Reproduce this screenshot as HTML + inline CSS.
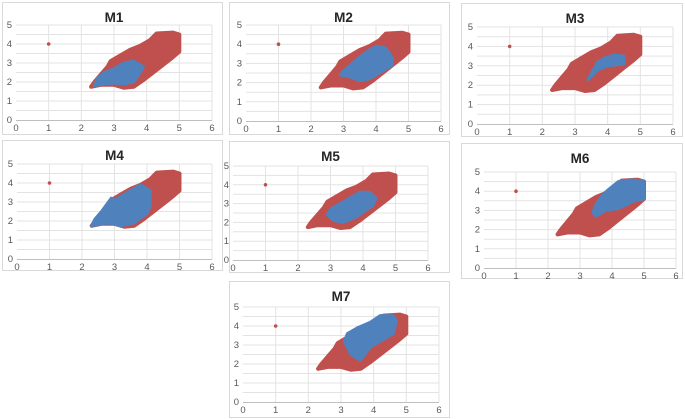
<!DOCTYPE html>
<html><head><meta charset="utf-8"><style>
body{margin:0;background:#fff;width:685px;height:419px;overflow:hidden;font-family:"Liberation Sans",sans-serif}
svg{display:block}
</style></head><body>
<svg id="chart" width="685" height="419" viewBox="0 0 685 419"></svg>
<script>
const titles = ["M1","M2","M3","M4","M5","M6","M7"];
const xTicks = [0,1,2,3,4,5,6];
const yTicks = [0,1,2,3,4,5];
const outlier = [1,4];
const redHull = [[2.3,1.75],[2.6,1.85],[3.0,1.85],[3.3,1.7],[3.6,1.75],[3.9,2.1],[4.2,2.5],[4.5,2.9],[4.8,3.3],[5.0,3.6],[5.0,4.5],[4.8,4.6],[4.3,4.55],[4.1,4.2],[3.8,3.9],[3.5,3.7],[3.2,3.4],[2.9,3.1],[2.8,2.8],[2.6,2.4],[2.4,2.0]];
const blueM1 = [[2.4,1.8],[2.7,1.9],[3.0,1.95],[3.3,1.9],[3.6,2.0],[3.8,2.5],[3.9,2.8],[3.6,3.1],[3.3,3.0],[3.0,2.7],[2.7,2.5],[2.5,2.2]];
const blueM2 = [[3.2,2.3],[3.5,2.1],[3.8,2.2],[4.2,2.6],[4.5,2.9],[4.5,3.3],[4.3,3.8],[4.0,3.9],[3.7,3.6],[3.4,3.2],[3.0,2.6],[2.9,2.4]];
const blueM3 = [[3.4,2.3],[3.7,2.8],[4.0,3.0],[4.5,3.1],[4.5,3.5],[4.2,3.55],[3.9,3.4],[3.7,3.2],[3.5,2.6]];
const blueM4 = [[2.3,1.75],[2.8,1.9],[3.2,1.75],[3.6,1.9],[4.0,2.4],[4.1,2.8],[4.1,3.6],[3.8,3.9],[3.4,3.5],[3.0,3.1],[2.9,3.2],[2.6,2.5],[2.4,2.1]];
const blueM5 = [[3.1,2.1],[3.4,2.0],[3.8,2.3],[4.3,2.9],[4.4,3.3],[4.2,3.6],[3.9,3.6],[3.5,3.2],[3.0,2.7],[2.9,2.4]];
const blueM6 = [[3.5,2.7],[3.8,3.0],[4.2,3.1],[4.7,3.5],[5.0,3.6],[5.0,4.5],[4.6,4.6],[4.2,4.5],[3.9,4.1],[3.7,3.8],[3.5,3.3],[3.4,2.9]];
const blueM7 = [[3.3,2.5],[3.6,2.2],[3.9,2.9],[4.3,3.3],[4.6,3.6],[4.7,4.3],[4.6,4.55],[4.2,4.55],[3.9,4.2],[3.5,3.9],[3.2,3.6],[3.1,3.2]];
const blueSets = [blueM1,blueM2,blueM3,blueM4,blueM5,blueM6,blueM7];
// layout: box [x,y,w,h], axes [x0px,x6px,y0px,y5px]
const layout = [
 {box:[2,2,220,132],ax:[16,212,120,25]},
 {box:[229,2,220,132],ax:[246,441,121,25]},
 {box:[461,3,221,133],ax:[477,673,124,27]},
 {box:[2,140,220,130],ax:[17,212,259,164]},
 {box:[229,141,220,131],ax:[233,428,260,166]},
 {box:[461,143,221,135],ax:[484,676,268,172]},
 {box:[229,281,220,136],ax:[243,439,402,307]}
];
const NS="http://www.w3.org/2000/svg";
const svg=document.getElementById('chart');
function mk(t,a,p){const e=document.createElementNS(NS,t);for(const k in a)e.setAttribute(k,a[k]);p.appendChild(e);return e;}
titles.forEach((title,i)=>{
  const L=layout[i];
  const g=mk('g',{},svg);
  
  
  const [x0,x6,y0,y5]=L.ax;
  const sx=v=>x0+(x6-x0)*v/6, sy=v=>y0-(y0-y5)*v/5;
  const b=mk('rect',{x:L.box[0]+.5,y:L.box[1]+.5,width:L.box[2],height:L.box[3],fill:'#fff',stroke:'#d9d9d9'},g);
  
  
  for(let v=0.5;v<=5;v+=0.5){const l=mk('line',{x1:sx(0),x2:sx(6),y1:sy(v),y2:sy(v),stroke:'#e3e3e3','stroke-width':1},g);
    }
  xTicks.forEach(v=>{if(v>0){const l=mk('line',{x1:sx(v),x2:sx(v),y1:sy(0),y2:sy(5),stroke:'#e3e3e3'},g);
    }
    const t=mk('text',{x:sx(v),y:y0+11,'font-size':9.5,fill:'#595959','text-anchor':'middle'},g);t.textContent=v;
    });
  yTicks.forEach(v=>{const t=mk('text',{x:x0-4,y:sy(v)+3,'font-size':9.5,fill:'#595959','text-anchor':'end'},g);t.textContent=v;
    });
  const ax=mk('line',{x1:sx(0),x2:sx(6),y1:y0+.5,y2:y0+.5,stroke:'#bfbfbf'},g);
  
  const tt=mk('text',{x:(sx(0)+sx(6))/2,y:L.box[1]+20,'font-size':13.5,'font-weight':'bold',fill:'#262626','text-anchor':'middle'},g);
  tt.textContent=title;
  
  const pts=a=>a.map(p=>sx(p[0]).toFixed(1)+','+sy(p[1]).toFixed(1)).join(' ');
  const r=mk('polygon',{points:pts(redHull),fill:'#c0504d',stroke:'#c0504d','stroke-width':4,'stroke-linejoin':'round'},g);
  
  const o=mk('circle',{cx:sx(outlier[0]),cy:sy(outlier[1]),r:1.8,fill:'#c0504d'},g);
  
  const bl=mk('polygon',{points:pts(blueSets[i]),fill:'#4f81bd',stroke:'#4f81bd','stroke-width':3,'stroke-linejoin':'round'},g);
  
});
</script>
</body></html>
